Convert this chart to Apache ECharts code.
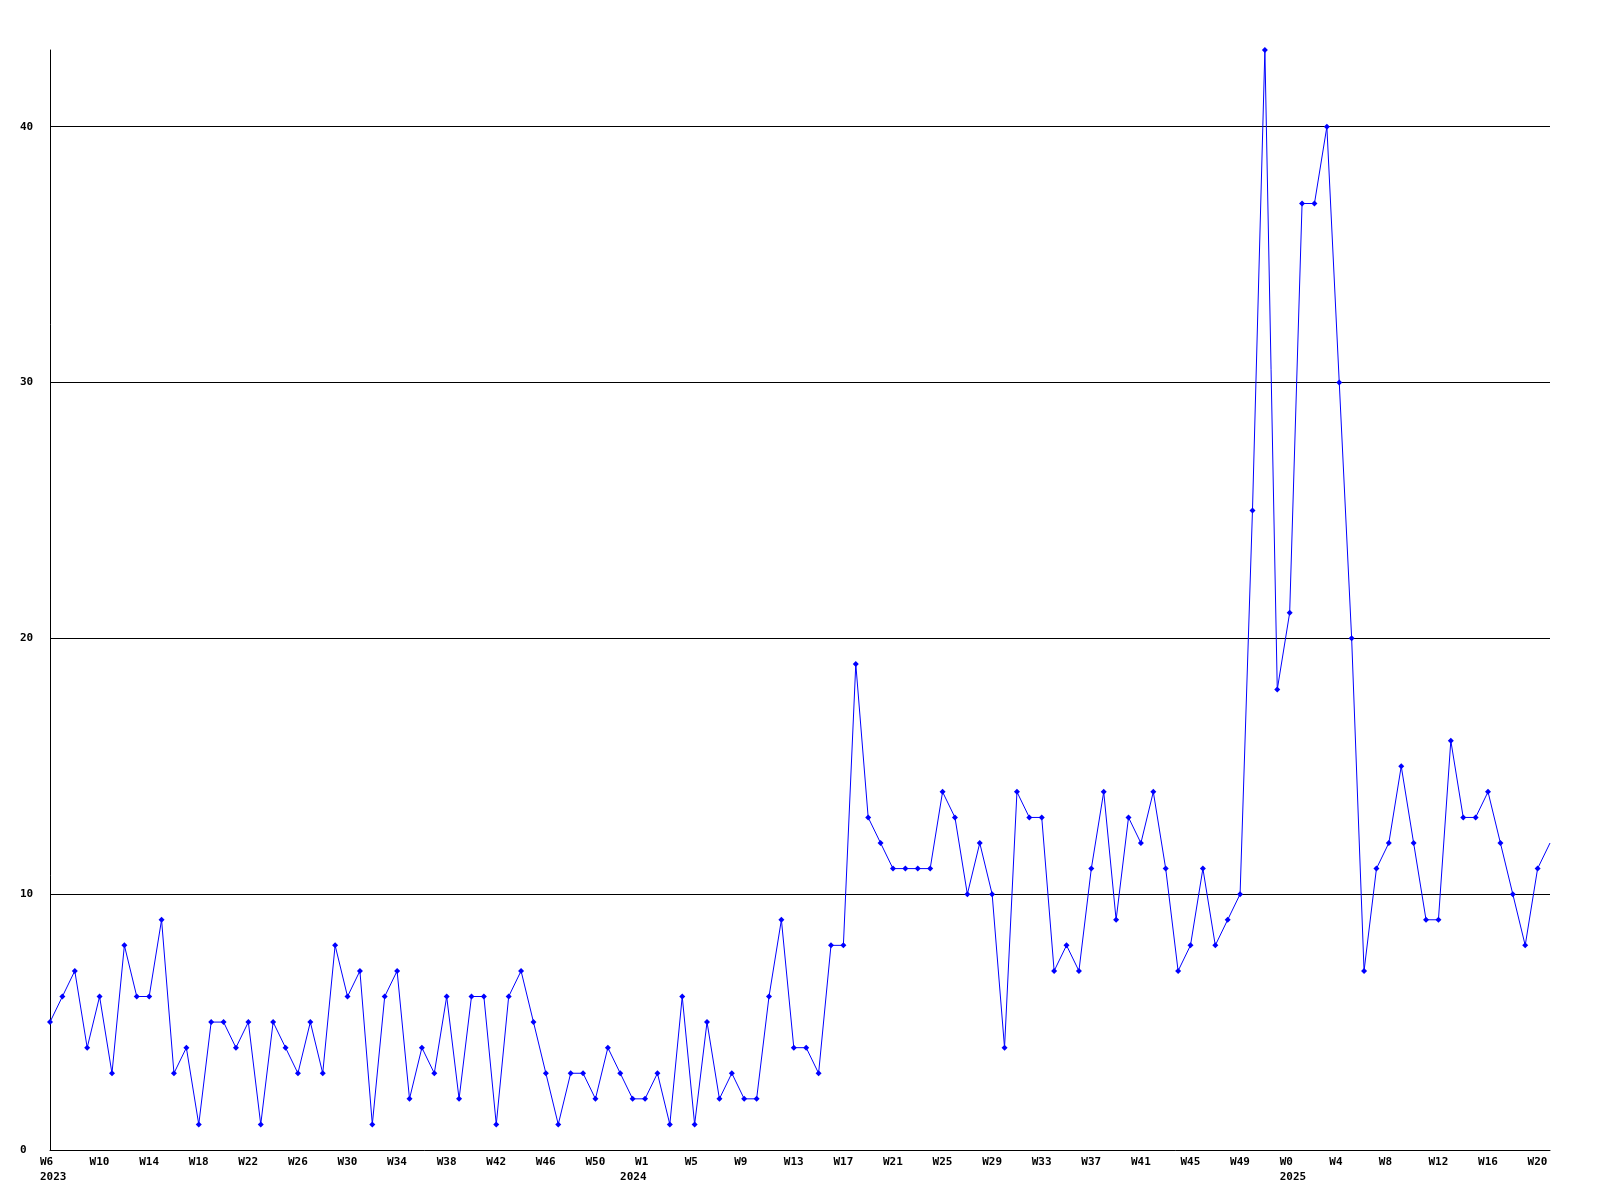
<!DOCTYPE html>
<html>
<head>
<meta charset="utf-8">
<script src="https://cdn.jsdelivr.net/npm/echarts@6/dist/echarts.min.js"></script>
<style>
html,body{margin:0;padding:0;background:#fff;}
#chart{width:1600px;height:1200px;}
</style>
</head>
<body>
<div id="chart"></div>
<script>
// Week labels per year
const weeks2023 = ['W6','W7','W8','W9','W10','W11','W12','W13','W14','W15','W16','W17','W18','W19','W20','W21','W22','W23','W24','W25','W26','W27','W28','W29','W30','W31','W32','W33','W34','W35','W36','W37','W38','W39','W40','W41','W42','W43','W44','W45','W46','W47','W48','W49','W50','W51','W52','W53'];
const weeks2024 = ['W1','W2','W3','W4','W5','W6','W7','W8','W9','W10','W11','W12','W13','W14','W15','W16','W17','W18','W19','W20','W21','W22','W23','W24','W25','W26','W27','W28','W29','W30','W31','W32','W33','W34','W35','W36','W37','W38','W39','W40','W41','W42','W43','W44','W45','W46','W47','W48','W49','W50','W51','W52'];
const weeks2025 = ['W0','W1','W2','W3','W4','W5','W6','W7','W8','W9','W10','W11','W12','W13','W14','W15','W16','W17','W18','W19','W20','W21'];

// Weekly counts per year
const counts2023 = [5,6,7,4,6,3,8,6,6,9, 3,4,1,5,5,4,5,1,5,4, 3,5,3,8,6,7,1,6,7,2, 4,3,6,2,6,6,1,6,7,5, 3,1,3,3,2,4,3,2];
const counts2024 = [2,3,1,6,1,5,2,3,2,2, 6,9,4,4,3,8,8,19,13,12, 11,11,11,11,14,13,10,12,10,4, 14,13,13,7,8,7,11,14,9,13, 12,14,11,7,8,11,8,9,10,25, 43,18];
const counts2025 = [21,37,37,40,30,20,7,11,12,15,12,9,9,16,13,13,14,12,10,8,11,12];

// Y-axis ticks
const yTicks = [0,10,20,30,40];
const yMax = 43;

const categories = [
  ...weeks2023.map(w => '2023 ' + w),
  ...weeks2024.map(w => '2024 ' + w),
  ...weeks2025.map(w => '2025 ' + w)
];
const values = [...counts2023, ...counts2024, ...counts2025];

const FONT = 'DejaVu Sans Mono';
const LABEL_STEP = 4;
const chart = echarts.init(document.getElementById('chart'), null, {renderer: 'canvas'});

const baseRich = {fontFamily: FONT, fontWeight: 'bold', fontSize: 11, lineHeight: 15, color: '#000', align: 'left'};

chart.setOption({
  backgroundColor: '#ffffff',
  animation: false,
  grid: {left: 50, right: 50, top: 50, bottom: 50, containLabel: false},
  xAxis: {
    type: 'category',
    data: categories,
    boundaryGap: false,
    axisLine: {show: true, lineStyle: {color: '#000', width: 1}},
    axisTick: {show: false},
    splitLine: {show: false},
    axisLabel: {
      interval: LABEL_STEP - 1,
      showMinLabel: true,
      showMaxLabel: true,
      margin: 5,
      color: '#000',
      fontFamily: FONT,
      fontWeight: 'bold',
      fontSize: 11,
      lineHeight: 15,
      align: 'center',
      formatter: function (value, index) {
        if (index % LABEL_STEP !== 0) return '';
        const parts = value.split(' ');
        const year = parts[0];
        const week = parts[1];
        let showYear = index === 0;
        if (index >= LABEL_STEP) {
          const prevYear = categories[index - LABEL_STEP].split(' ')[0];
          if (prevYear !== year) showYear = true;
        }
        if (!showYear) return '{w|' + week + '}';
        if (year === '2024') return '{wb|' + week + '}\n{yb|' + year + '}';
        return '{wa|' + week + '}\n{ya|' + year + '}';
      },
      rich: {
        w: Object.assign({width: 20}, baseRich),
        wa: Object.assign({width: 30, padding: [0,0,0,10]}, baseRich),
        ya: Object.assign({width: 30, padding: [0,0,0,10]}, baseRich),
        wb: Object.assign({width: 35, padding: [0,0,0,15]}, baseRich),
        yb: Object.assign({width: 50}, baseRich)
      }
    }
  },
  yAxis: {
    type: 'value',
    min: yTicks[0],
    max: yMax,
    interval: yTicks[1] - yTicks[0],
    axisLine: {show: true, lineStyle: {color: '#000', width: 1}},
    axisTick: {show: false},
    splitLine: {show: true, showMinLine: false, showMaxLine: false, lineStyle: {color: '#000', width: 1}},
    axisLabel: {
      margin: 30,
      align: 'left',
      color: '#000',
      fontFamily: FONT,
      fontWeight: 'bold',
      fontSize: 11,
      showMaxLabel: false,
      formatter: function (v) { return yTicks.indexOf(v) >= 0 ? String(v) : ''; }
    }
  },
  series: [{
    type: 'line',
    data: values.map((v, i) => i === values.length - 1 ? {value: v, symbol: 'none'} : v),
    symbol: 'diamond',
    symbolSize: 6,
    showAllSymbol: true,
    lineStyle: {color: '#0000ff', width: 1},
    itemStyle: {color: '#0000ff', borderWidth: 0},
    emphasis: {disabled: true}
  }]
});
</script>
</body>
</html>
